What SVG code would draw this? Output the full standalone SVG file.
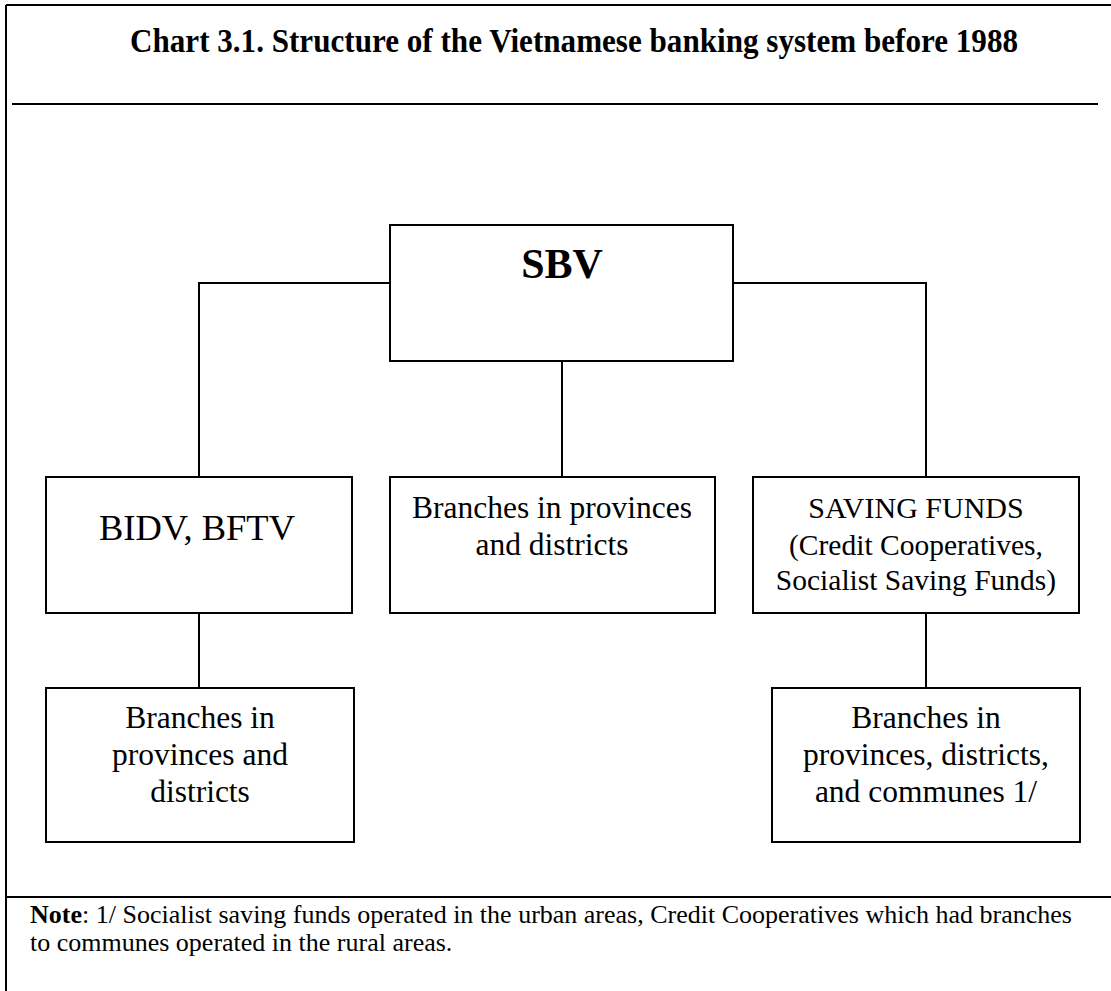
<svg xmlns="http://www.w3.org/2000/svg" width="1111" height="991" viewBox="0 0 1111 991">
<style>
.frame{fill:none;stroke:#000;stroke-width:2}
.box{fill:#fff;stroke:#000;stroke-width:2}
.conn{fill:none;stroke:#000;stroke-width:2}
text{font-family:"Liberation Serif","Times New Roman",serif;fill:#000;text-anchor:middle}
.t{font-size:31.5px}
.s{font-size:29.5px}
</style>
<rect x="0" y="0" width="1111" height="991" fill="#fff"/>
<g id="frame">
<line class="frame" x1="6" y1="5" x2="1111" y2="5"/>
<line class="frame" x1="6" y1="5" x2="6" y2="991"/>
<line class="frame" x1="12" y1="104" x2="1098" y2="104"/>
<line class="frame" x1="6" y1="897" x2="1111" y2="897"/>
</g>
<g id="title">
<text x="574" y="52" font-size="33" font-weight="bold" textLength="888" lengthAdjust="spacingAndGlyphs">Chart 3.1. Structure of the Vietnamese banking system before 1988</text>
</g>
<g id="connectors">
<path class="conn" d="M390,283 H199 V477"/>
<path class="conn" d="M733,283 H926 V477"/>
<path class="conn" d="M562,361 V477"/>
<path class="conn" d="M199,613 V688"/>
<path class="conn" d="M926,613 V688"/>
</g>
<g id="sbv">
<rect class="box" x="390" y="225" width="343" height="136"/>
<text x="562" y="278" font-size="42" font-weight="bold">SBV</text>
</g>
<g id="bidv">
<rect class="box" x="46" y="477" width="306" height="136"/>
<text x="197" y="540" font-size="36.5">BIDV, BFTV</text>
</g>
<g id="sbv-branches">
<rect class="box" x="390" y="477" width="325" height="136"/>
<text class="t" x="552" y="518">Branches in provinces</text>
<text class="t" x="552" y="555">and districts</text>
</g>
<g id="saving-funds">
<rect class="box" x="753" y="477" width="326" height="136"/>
<text x="916" y="518" font-size="30">SAVING FUNDS</text>
<text class="s" x="916" y="555">(Credit Cooperatives,</text>
<text class="s" x="916" y="590">Socialist Saving Funds)</text>
</g>
<g id="bidv-branches">
<rect class="box" x="46" y="688" width="308" height="154"/>
<text class="t" x="200" y="728">Branches in</text>
<text class="t" x="200" y="765">provinces and</text>
<text class="t" x="200" y="802">districts</text>
</g>
<g id="sf-branches">
<rect class="box" x="772" y="688" width="308" height="154"/>
<text class="t" x="926" y="728">Branches in</text>
<text class="t" x="926" y="765">provinces, districts,</text>
<text class="t" x="926" y="802">and communes 1/</text>
</g>
<g id="note">
<text x="30" y="923" font-size="26" style="text-anchor:start"><tspan font-weight="bold">Note</tspan>: 1/ Socialist saving funds operated in the urban areas, Credit Cooperatives which had branches</text>
<text x="30" y="951" font-size="26" style="text-anchor:start">to communes operated in the rural areas.</text>
</g>
</svg>
